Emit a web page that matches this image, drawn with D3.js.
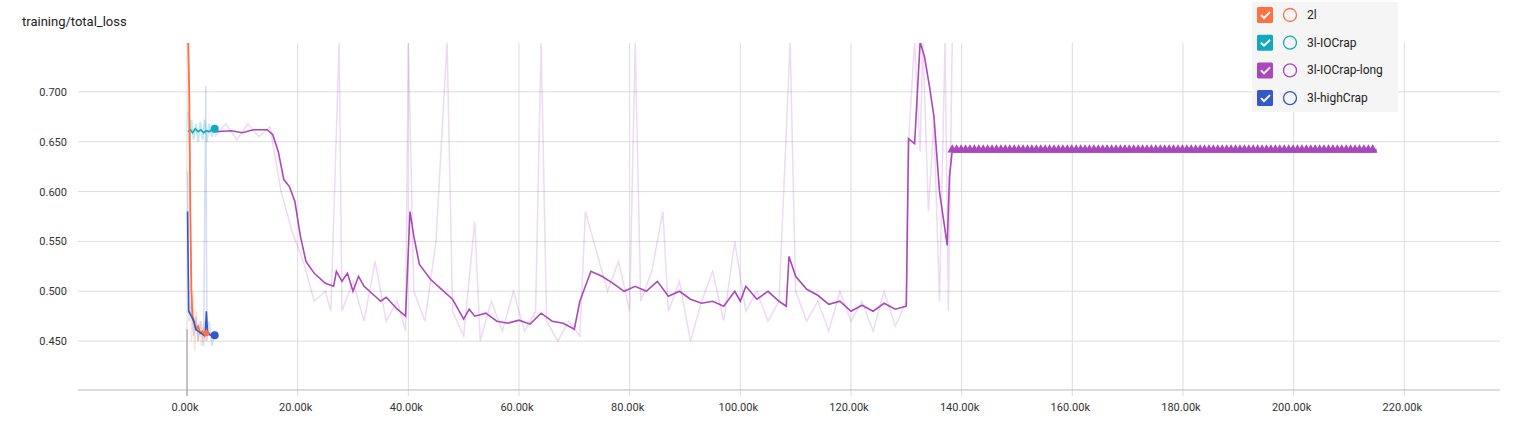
<!DOCTYPE html><html><head><meta charset="utf-8"><script src="https://cdn.jsdelivr.net/npm/d3@7"></script>
<style>body{margin:0;background:#fff;font-family:Roboto,"Noto Sans",sans-serif}</style></head><body><svg id="c" width="1518" height="422"></svg>
<script>
const title="training/total_loss";
const seriesNames=["2l","3l-IOCrap","3l-IOCrap-long","3l-highCrap"];
const colors=["#ff7043","#12a8be","#ab47bc","#3358c8"];
const yTicks=[0.45,0.5,0.55,0.6,0.65,0.7];
const xTicks=[0,20,40,60,80,100,120,140,160,180,200,220];
const orange=[[0.1,0.78],[0.4,0.70],[0.6,0.58],[0.8,0.50],[1.0,0.475],[1.3,0.47],[1.6,0.462],[2,0.465],[2.4,0.458],[2.8,0.46],[3.2,0.455],[3.5,0.458]];
const orangeRaw=[[0.2,0.79],[0.5,0.66],[0.8,0.45],[1.1,0.50],[1.4,0.44],[1.7,0.48],[2,0.45],[2.3,0.47],[2.6,0.445],[3,0.47],[3.3,0.45],[3.5,0.46]];
const teal=[[0.2,0.66],[0.6,0.662],[1,0.659],[1.5,0.663],[2,0.66],[2.5,0.662],[3,0.659],[3.5,0.661],[4,0.66],[4.5,0.662],[5,0.663]];
const tealRaw=[[0.2,0.68],[0.5,0.65],[0.8,0.672],[1.2,0.652],[1.6,0.668],[2,0.65],[2.4,0.67],[2.8,0.652],[3.2,0.672],[3.6,0.65],[4,0.668],[4.5,0.655],[5,0.665]];
const blue=[[0.1,0.58],[0.3,0.48],[0.8,0.475],[1.2,0.47],[1.6,0.462],[2,0.46],[2.5,0.458],[3,0.456],[3.3,0.457],[3.5,0.48],[3.7,0.46],[4.2,0.456],[5,0.456]];
const blueRaw=[[0.1,0.62],[0.4,0.47],[0.8,0.49],[1.2,0.455],[1.6,0.475],[2,0.45],[2.5,0.47],[3,0.445],[3.4,0.706],[3.6,0.45],[4,0.47],[4.5,0.445],[5,0.46]];
const purple=[[5,0.660],[8,0.661],[10,0.659],[12,0.662],[14.5,0.662],[15.5,0.657],[16.5,0.640],[17.5,0.612],[18.5,0.605],[19.5,0.590],[20.5,0.555],[21.5,0.530],[23,0.518],[25,0.508],[26.5,0.505],[27,0.520],[28,0.510],[29,0.518],[30,0.500],[31,0.515],[32,0.505],[34,0.495],[35,0.490],[36,0.494],[38,0.482],[39.5,0.475],[40.3,0.580],[41,0.555],[42,0.527],[44,0.512],[46,0.502],[48,0.492],[50,0.472],[51,0.482],[52,0.475],[54,0.478],[56,0.470],[58,0.468],[60,0.471],[62,0.467],[64,0.478],[66,0.470],[68,0.468],[70,0.462],[71,0.490],[72,0.505],[73,0.520],[75,0.515],[77,0.508],[79,0.500],[81,0.505],[83,0.500],[85,0.510],[87,0.495],[89,0.500],[91,0.492],[93,0.488],[95,0.490],[97,0.485],[99,0.500],[100,0.490],[101,0.505],[103,0.492],[105,0.500],[107,0.490],[108.3,0.485],[108.8,0.535],[110,0.515],[112,0.502],[114,0.496],[116,0.487],[118,0.490],[120,0.480],[122,0.486],[124,0.480],[126,0.488],[128,0.482],[130,0.485],[130.4,0.653],[131.5,0.648],[132.5,0.75],[133.3,0.735],[134.2,0.705],[135,0.675],[136,0.600],[137.4,0.546],[137.8,0.615],[138.3,0.641]];
const purpleRaw=[[5,0.655],[7,0.668],[9,0.652],[11,0.668],[13,0.655],[15,0.665],[17,0.60],[19,0.56],[21,0.53],[23,0.49],[25,0.50],[26,0.48],[27.5,0.75],[28,0.48],[30,0.51],[32,0.47],[34,0.53],[36,0.47],[38,0.49],[39.5,0.46],[40,0.75],[41,0.50],[43,0.47],[45,0.55],[47,0.75],[48,0.48],[50,0.455],[52,0.57],[53,0.45],[55,0.49],[57,0.46],[59,0.50],[61,0.46],[63,0.48],[64,0.75],[65,0.47],[67,0.45],[69,0.47],[71,0.455],[72,0.58],[74,0.54],[76,0.50],[78,0.53],[80,0.48],[81,0.75],[82,0.49],[84,0.52],[86,0.58],[87,0.48],[89,0.51],[91,0.45],[93,0.49],[95,0.52],[97,0.47],[99,0.55],[101,0.48],[103,0.50],[105,0.47],[107,0.49],[109,0.75],[110,0.50],[112,0.47],[114,0.49],[116,0.46],[118,0.50],[120,0.47],[122,0.49],[124,0.46],[126,0.50],[128,0.465],[130,0.49],[130.5,0.66],[131.5,0.75],[132.5,0.64],[133,0.75],[134,0.58],[135,0.67],[136,0.49],[137,0.75],[137.6,0.48],[138.3,0.75]];
const plateau=[138.3,215,0.641];

const svg=d3.select("#c");
const x=d3.scaleLinear().domain([-19.7,237.3]).range([78,1500]);
const y=d3.scaleLinear().domain([0.401,0.749]).range([390,43]);
svg.append("text").attr("x",22).attr("y",26).attr("font-size",13).attr("fill","#222").text(title);
const g=svg.append("g");
yTicks.forEach(t=>{g.append("line").attr("x1",78).attr("x2",1500).attr("y1",y(t)).attr("y2",y(t)).attr("stroke","#dcdcdc");
 g.append("text").attr("x",67).attr("y",y(t)+4).attr("text-anchor","end").attr("font-size",11).attr("fill","#333").text(t.toFixed(3));});
xTicks.forEach(t=>{g.append("line").attr("x1",x(t)).attr("x2",x(t)).attr("y1",43).attr("y2",396).attr("stroke","#dcdcdc");
 g.append("text").attr("x",x(t)-2).attr("y",411).attr("text-anchor","middle").attr("font-size",11).attr("fill","#333").text(t.toFixed(2)+"k");});
g.append("line").attr("x1",78).attr("x2",1500).attr("y1",390).attr("y2",390).attr("stroke","#bbb");
g.append("line").attr("x1",x(0)).attr("x2",x(0)).attr("y1",y(0.462)).attr("y2",396).attr("stroke","#999");
const clip=svg.append("clipPath").attr("id","cp").append("rect").attr("x",78).attr("y",43).attr("width",1422).attr("height",347);
const P=svg.append("g").attr("clip-path","url(#cp)");
const line=d3.line().x(d=>x(d[0])).y(d=>y(d[1]));
function draw(d,c,op,w){P.append("path").attr("d",line(d)).attr("fill","none").attr("stroke",c).attr("stroke-opacity",op).attr("stroke-width",w);}
draw(purpleRaw,colors[2],0.2,1.5);draw(orangeRaw,colors[0],0.2,1.5);draw(tealRaw,colors[1],0.25,2);draw(blueRaw,colors[3],0.2,1.5);
draw(purple,colors[2],1,1.6);draw(teal,colors[1],1,1.6);draw(orange,colors[0],1,1.8);draw(blue,colors[3],1,1.6);
const tri=d3.symbol().type(d3.symbolTriangle).size(40);
d3.range(plateau[0],plateau[1],0.8).forEach(k=>P.append("path").attr("d",tri()).attr("transform",`translate(${x(k)},${y(plateau[2])-1})`).attr("fill",colors[2]));
P.append("line").attr("x1",x(plateau[0])).attr("x2",x(plateau[1])).attr("y1",y(plateau[2])).attr("y2",y(plateau[2])).attr("stroke",colors[2]).attr("stroke-width",4);
[[teal,1],[blue,3],[orange,0]].forEach(([d,i])=>{const e=d[d.length-1];P.append("circle").attr("cx",x(e[0])).attr("cy",y(e[1])).attr("r",i==0?3:4).attr("fill",colors[i]);});
const L=svg.append("g");
L.append("rect").attr("x",1252).attr("y",2).attr("width",146).attr("height",110).attr("fill","#f5f5f5");
seriesNames.forEach((n,i)=>{const cy=15+i*27.7;
 L.append("rect").attr("x",1257).attr("y",cy-8).attr("width",16).attr("height",16).attr("rx",1.5).attr("fill",colors[i]);
 L.append("path").attr("d",`M${1261},${cy} l3,3 l6,-6`).attr("fill","none").attr("stroke","#fff").attr("stroke-width",2);
 L.append("circle").attr("cx",1290).attr("cy",cy).attr("r",6.5).attr("fill","none").attr("stroke",colors[i]).attr("stroke-width",1.3);
 L.append("text").attr("x",1307).attr("y",cy+4).attr("font-size",12).attr("fill","#222").text(n);});
</script></body></html>
